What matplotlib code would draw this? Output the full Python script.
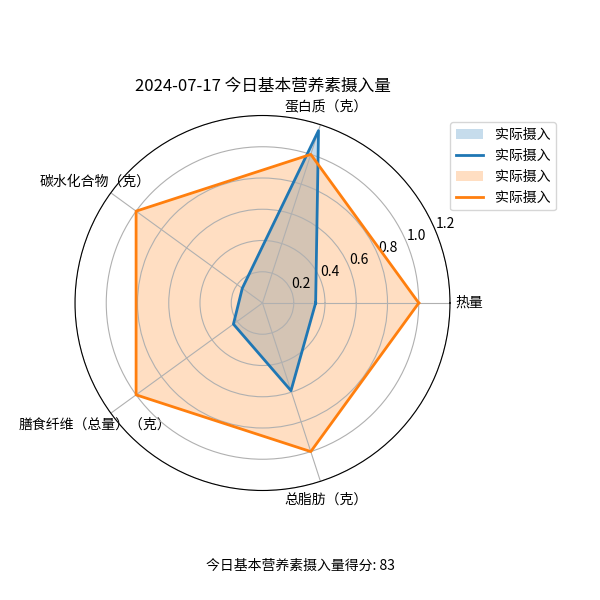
import numpy as np
import matplotlib
matplotlib.use('Agg')
import matplotlib.pyplot as plt

plt.rcParams['font.family'] = ['Noto Sans CJK SC', 'DejaVu Sans']
plt.rcParams['axes.unicode_minus'] = False

categories = ['热量', '蛋白质（克）', '碳水化合物（克）', '膳食纤维（总量）（克）', '总脂肪（克）']
actual = [0.34, 1.16, 0.16, 0.23, 0.59]
target = [1.0, 1.0, 1.0, 1.0, 1.0]
title = '2024-07-17 今日基本营养素摄入量'
score = 83

angles = np.linspace(0, 2 * np.pi, len(categories), endpoint=False).tolist()
angles += angles[:1]
actual_c = actual + actual[:1]
target_c = target + target[:1]

fig = plt.figure(figsize=(6, 6), dpi=100)
ax = fig.add_subplot(111, polar=True)
fig.subplots_adjust(right=0.75)

ax.fill(angles, actual_c, alpha=0.25, label='实际摄入')
ax.plot(angles, actual_c, linewidth=2, label='实际摄入')
ax.fill(angles, target_c, alpha=0.25, label='实际摄入')
ax.plot(angles, target_c, linewidth=2, label='实际摄入')

ax.set_xticks(angles[:-1])
ax.set_xticklabels(categories)
ax.set_ylim(0, 1.2)
ax.set_title(title)
ax.legend(loc='upper right', bbox_to_anchor=(1.3, 1.0))

fig.text(0.5, 0.05, f'今日基本营养素摄入量得分: {score}', ha='center')
fig.savefig('out.png')
